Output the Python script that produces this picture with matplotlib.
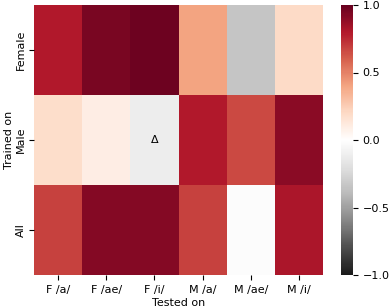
import numpy as np
import seaborn as sns
from matplotlib import pyplot as plt

rows = ['Female', 'Male', 'All']
cols = ['F /a/', 'F /ae/', 'F /i/', 'M /a/', 'M /ae/', 'M /i/']

female = [0.80, 0.95, 0.98, 0.40, -0.34, 0.20]
male = [0.18, 0.10, -0.11, 0.80, 0.66, 0.90]
all_ = [0.68, 0.92, 0.92, 0.68, -0.02, 0.82]

marks = [['', '', '', '', '', ''],
         ['', '', '\u0394', '', '', ''],
         ['', '', '', '', '', '']]

data = np.array([female, male, all_])

fig = plt.figure(figsize=(3.9, 3.07), dpi=100)
ax = fig.add_axes([34 / 390, 32 / 307, 289 / 390, 270 / 307])
cax = fig.add_axes([341 / 390, 32 / 307, 12 / 390, 270 / 307])
sns.heatmap(data, ax=ax, cbar_ax=cax, cmap='RdGy_r', vmin=-1, vmax=1,
            annot=np.array(marks), fmt='', xticklabels=cols,
            yticklabels=rows, annot_kws={'color': 'black', 'fontsize': 8})
ax.set_xlabel('Tested on', fontsize=8, labelpad=2)
ax.set_ylabel('Trained on', fontsize=8, labelpad=2)
ax.tick_params(labelsize=8)
ax.tick_params(axis='y', pad=2)
cax.tick_params(labelsize=8)
cax.set_yticks([-1.0, -0.5, 0.0, 0.5, 1.0])
fig.savefig('out.png', dpi=100)
